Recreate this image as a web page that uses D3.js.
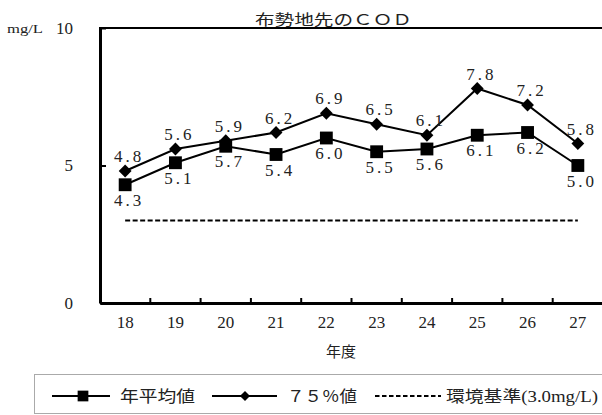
<!DOCTYPE html>
<html>
<head>
<meta charset="utf-8">
<script src="https://cdn.jsdelivr.net/npm/d3@7"></script>
<style>
  body { margin: 0; background: #fff; }
  svg { display: block; }
  text { font-family: "Liberation Serif", "DejaVu Serif", "Times New Roman", "Noto Sans CJK JP", serif; fill: #222; }
</style>
</head>
<body>
<svg class="chart"></svg>
<script>
// data
var years = ["18", "19", "20", "21", "22", "23", "24", "25", "26", "27"];
var annualMean = [4.3, 5.1, 5.7, 5.4, 6.0, 5.5, 5.6, 6.1, 6.2, 5.0];
var pct75 = [4.8, 5.6, 5.9, 6.2, 6.9, 6.5, 6.1, 7.8, 7.2, 5.8];
var envStandard = 3.0;
var yTicks = [0, 5, 10];
var titleText = "布勢地先のＣＯＤ";
var xTitle = "年度";
var yUnit = "mg/L";
var legendLabels = ["年平均値", "７５％値", "環境基準(3.0mg/L)"];

function show() {
    'use strict';

    var width = 602, height = 415;
    var serif = '"Liberation Serif", "DejaVu Serif", "Times New Roman", "Noto Sans CJK JP", serif';
    var svg = d3.select(".chart").attr("width", width).attr("height", height);

    var x = d3.scaleBand().domain(years).range([100, 603]).padding(0);
    var y = d3.scaleLinear().domain([0, 10]).range([303, 28]);
    var cx = function(d) { return x(d) + x.bandwidth() / 2; };
    var fmt = d3.format(".1f");

    // title
    svg.append("text")
        .attr("x", 255).attr("y", 25)
        .attr("textLength", 157).attr("lengthAdjust", "spacingAndGlyphs")
        .style("font-size", "15px")
        .text(titleText);

    // top border
    svg.append("line")
        .attr("x1", 99).attr("x2", 603)
        .attr("y1", y(10)).attr("y2", y(10))
        .attr("stroke", "#000").attr("stroke-width", 2);

    // y axis, inward ticks
    var yAxis = svg.append("g")
        .attr("transform", "translate(100,0)")
        .call(d3.axisLeft(y).tickValues(yTicks).tickSizeInner(-6).tickSizeOuter(0).tickPadding(27));
    yAxis.select(".domain").attr("stroke", "#000").attr("stroke-width", 3);
    yAxis.selectAll(".tick line").attr("stroke", "#000").attr("stroke-width", 2);
    yAxis.selectAll(".tick text")
        .style("font-size", "17px").style("font-family", serif).attr("fill", "#222");

    svg.append("text")
        .attr("x", 7).attr("y", 33)
        .attr("textLength", 36).attr("lengthAdjust", "spacingAndGlyphs")
        .style("font-size", "13px")
        .text(yUnit);

    // x axis: labels at centres, ticks at category boundaries
    var xAxis = svg.append("g")
        .attr("transform", "translate(0," + y(0) + ")")
        .call(d3.axisBottom(x).tickSize(0).tickPadding(13));
    xAxis.select(".domain").attr("stroke", "#000").attr("stroke-width", 3);
    xAxis.selectAll(".tick text")
        .style("font-size", "17px").style("font-family", serif).attr("fill", "#222");

    svg.append("g").selectAll("line")
        .data(years.slice(1))
        .enter().append("line")
        .attr("x1", function(d) { return x(d); })
        .attr("x2", function(d) { return x(d); })
        .attr("y1", y(0)).attr("y2", y(0) - 5)
        .attr("stroke", "#000").attr("stroke-width", 2);

    svg.append("text")
        .attr("x", 341).attr("y", 357)
        .attr("text-anchor", "middle")
        .style("font-size", "15px")
        .text(xTitle);

    // environmental standard
    svg.append("line")
        .attr("x1", cx(years[0])).attr("x2", cx(years[years.length - 1]))
        .attr("y1", y(envStandard)).attr("y2", y(envStandard))
        .attr("stroke", "#000").attr("stroke-width", 2)
        .attr("stroke-dasharray", "5,2.5");

    var line = d3.line()
        .x(function(d, i) { return cx(years[i]); })
        .y(function(d) { return y(d); });

    svg.append("path").datum(annualMean)
        .attr("d", line).attr("fill", "none")
        .attr("stroke", "#000").attr("stroke-width", 2);
    svg.append("path").datum(pct75)
        .attr("d", line).attr("fill", "none")
        .attr("stroke", "#000").attr("stroke-width", 2);

    var sq = d3.symbol().type(d3.symbolSquare).size(165);
    var dia = d3.symbol().type(d3.symbolDiamond2).size(105);

    svg.append("g").selectAll("path")
        .data(annualMean)
        .enter().append("path")
        .attr("d", sq)
        .attr("transform", function(d, i) { return "translate(" + cx(years[i]) + "," + y(d) + ")"; })
        .attr("fill", "#000");

    svg.append("g").selectAll("path")
        .data(pct75)
        .enter().append("path")
        .attr("d", dia)
        .attr("transform", function(d, i) { return "translate(" + cx(years[i]) + "," + y(d) + ")"; })
        .attr("fill", "#000");

    // data labels
    svg.append("g").selectAll("text")
        .data(annualMean)
        .enter().append("text")
        .attr("x", function(d, i) { return cx(years[i]) + 4; })
        .attr("y", function(d) { return y(d) + 21; })
        .attr("text-anchor", "middle")
        .style("font-size", "17px").style("letter-spacing", "3px")
        .text(function(d) { return fmt(d); });

    svg.append("g").selectAll("text")
        .data(pct75)
        .enter().append("text")
        .attr("x", function(d, i) { return cx(years[i]) + 4; })
        .attr("y", function(d) { return y(d) - 9; })
        .attr("text-anchor", "middle")
        .style("font-size", "17px").style("letter-spacing", "3px")
        .text(function(d) { return fmt(d); });

    // legend
    var legend = svg.append("g");
    legend.append("rect")
        .attr("x", 34.5).attr("y", 374.5)
        .attr("width", 575).attr("height", 39)
        .attr("fill", "none").attr("stroke", "#aaa").attr("stroke-width", 1);

    var ly = 396;
    legend.append("line").attr("x1", 52).attr("x2", 110).attr("y1", ly).attr("y2", ly)
        .attr("stroke", "#000").attr("stroke-width", 2);
    legend.append("path").attr("d", d3.symbol().type(d3.symbolSquare).size(115))
        .attr("transform", "translate(83," + ly + ")");
    legend.append("text").attr("x", 120).attr("y", ly + 6)
        .attr("textLength", 75).attr("lengthAdjust", "spacingAndGlyphs")
        .style("font-size", "16px").text(legendLabels[0]);

    legend.append("line").attr("x1", 212).attr("x2", 277).attr("y1", ly).attr("y2", ly)
        .attr("stroke", "#000").attr("stroke-width", 2);
    legend.append("path").attr("d", d3.symbol().type(d3.symbolDiamond2).size(65))
        .attr("transform", "translate(245," + ly + ")");
    legend.append("text").attr("x", 287).attr("y", ly + 6)
        .attr("textLength", 70).attr("lengthAdjust", "spacingAndGlyphs")
        .style("font-size", "16px").text(legendLabels[1]);

    legend.append("line").attr("x1", 375).attr("x2", 441).attr("y1", ly).attr("y2", ly)
        .attr("stroke", "#000").attr("stroke-width", 2).attr("stroke-dasharray", "4.5,2.5");
    legend.append("text").attr("x", 446).attr("y", ly + 6)
        .attr("textLength", 152).attr("lengthAdjust", "spacingAndGlyphs")
        .style("font-size", "16px").text(legendLabels[2]);
}

show();
</script>
</body>
</html>
